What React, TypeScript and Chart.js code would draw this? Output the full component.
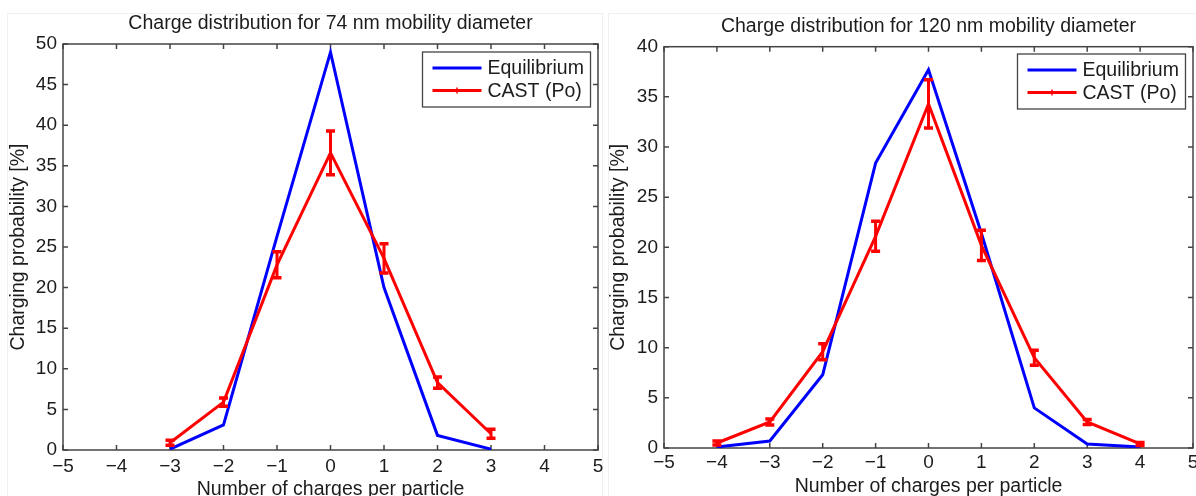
import React, { useEffect, useRef } from "react";
import { Chart, registerables } from "chart.js";

Chart.register(...registerables);

// ---------- data ----------
const seriesLabels = ["Equilibrium", "CAST (Po)"];
const xAxisTitle = "Number of charges per particle";
const yAxisTitle = "Charging probability [%]";
const xTickValues = [-5, -4, -3, -2, -1, 0, 1, 2, 3, 4, 5];

const title74 = "Charge distribution for 74 nm mobility diameter";
const charges74 = [-3, -2, -1, 0, 1, 2, 3];
const equilibrium74 = [0.1, 3.1, 26.3, 49.0, 20.0, 1.8, 0.1];
const cast74 = [0.9, 5.9, 22.8, 36.6, 23.6, 8.3, 2.0];
const castErr74 = [0.3, 0.5, 1.6, 2.7, 1.8, 0.7, 0.55];
const yTicks74 = [0, 5, 10, 15, 20, 25, 30, 35, 40, 45, 50];

const title120 = "Charge distribution for 120 nm mobility diameter";
const charges120 = [-4, -3, -2, -1, 0, 1, 2, 3, 4];
const equilibrium120 = [0.1, 0.7, 7.3, 28.4, 37.7, 21.4, 4.0, 0.4, 0.1];
const cast120 = [0.5, 2.6, 9.6, 21.1, 34.3, 20.2, 9.0, 2.6, 0.4];
const castErr120 = [0.2, 0.3, 0.8, 1.5, 2.4, 1.5, 0.75, 0.25, 0.15];
const yTicks120 = [0, 5, 10, 15, 20, 25, 30, 35, 40];

// ---------- styling ----------
const FONT = "'Liberation Sans', Arial, Helvetica, sans-serif";
const TEXT = "#1c1c1c";
const AXIS = "#444444";
const BLUE = "#0000ff";
const RED = "#ff0000";
const CW = 1210;
const CH = 506;

const fmt = (v: number) => (v < 0 ? "\u2212" + Math.abs(v) : String(v));

const frameTicksPlugin = {
  id: "frameTicks",
  beforeDatasetsDraw(chart: any) {
    const { ctx, chartArea: ca, scales } = chart;
    ctx.save();
    ctx.strokeStyle = AXIS;
    ctx.lineWidth = 1.5;
    ctx.strokeRect(ca.left, ca.top, ca.right - ca.left, ca.bottom - ca.top);
    const L = 5;
    ctx.beginPath();
    scales.x.ticks.forEach((t: any) => {
      const px = scales.x.getPixelForValue(t.value);
      ctx.moveTo(px, ca.bottom);
      ctx.lineTo(px, ca.bottom - L);
      ctx.moveTo(px, ca.top);
      ctx.lineTo(px, ca.top + L);
    });
    scales.y.ticks.forEach((t: any) => {
      const py = scales.y.getPixelForValue(t.value);
      ctx.moveTo(ca.left, py);
      ctx.lineTo(ca.left + L, py);
      ctx.moveTo(ca.right, py);
      ctx.lineTo(ca.right - L, py);
    });
    ctx.stroke();
    ctx.restore();
  },
};

const errorBarPlugin = {
  id: "errorBars",
  afterDatasetsDraw(chart: any) {
    const { ctx, scales } = chart;
    ctx.save();
    chart.data.datasets.forEach((ds: any) => {
      if (!ds.errors) return;
      ctx.strokeStyle = ds.borderColor;
      ds.data.forEach((pt: any, i: number) => {
        const e = ds.errors[i];
        const px = scales.x.getPixelForValue(pt.x);
        const pTop = scales.y.getPixelForValue(pt.y + e);
        const pBot = scales.y.getPixelForValue(Math.max(pt.y - e, 0));
        ctx.lineWidth = 3;
        ctx.beginPath();
        ctx.moveTo(px, pTop);
        ctx.lineTo(px, pBot);
        ctx.stroke();
        ctx.lineWidth = 3.5;
        ctx.beginPath();
        ctx.moveTo(px - 4.5, pTop);
        ctx.lineTo(px + 4.5, pTop);
        ctx.moveTo(px - 4.5, pBot);
        ctx.lineTo(px + 4.5, pBot);
        ctx.stroke();
      });
    });
    ctx.restore();
  },
};

const legendBoxPlugin = {
  id: "legendBox",
  afterDraw(chart: any, _args: any, opts: any) {
    const { ctx, chartArea: ca } = chart;
    const w = 168;
    const h = 55;
    const bx = ca.right - 7.5 - w;
    const by = ca.top + (opts.inset ?? 8);
    ctx.save();
    ctx.fillStyle = "#ffffff";
    ctx.fillRect(bx, by, w, h);
    ctx.strokeStyle = AXIS;
    ctx.lineWidth = 1.3;
    ctx.strokeRect(bx, by, w, h);
    const rows = [by + 16, by + 38.5];
    chart.data.datasets.forEach((ds: any, i: number) => {
      const y = rows[i];
      ctx.strokeStyle = ds.borderColor;
      ctx.lineWidth = 3;
      ctx.beginPath();
      ctx.moveTo(bx + 10, y);
      ctx.lineTo(bx + 59, y);
      ctx.stroke();
      if (ds.errors) {
        ctx.lineWidth = 1.5;
        ctx.beginPath();
        ctx.moveTo(bx + 34.5, y - 3);
        ctx.lineTo(bx + 34.5, y + 3);
        ctx.stroke();
      }
      ctx.fillStyle = TEXT;
      ctx.font = `19.5px ${FONT}`;
      ctx.textAlign = "left";
      ctx.textBaseline = "middle";
      ctx.fillText(ds.label, bx + 65, y + 1);
    });
    ctx.restore();
  },
};

type Panel = {
  title: string;
  charges: number[];
  eq: number[];
  cast: number[];
  err: number[];
  yTicks: number[];
  padLeft: number;
  padRight: number;
  yAxisWidth: number;
  xAxisHeight: number;
  titlePadTop: number;
  titlePadBottom: number;
  xTickPad: number;
  xTitlePad: number;
  legendInset: number;
};

function buildConfig(p: Panel): any {
  return {
    type: "line",
    data: {
      datasets: [
        {
          label: seriesLabels[0],
          data: p.charges.map((x, i) => ({ x, y: p.eq[i] })),
          borderColor: BLUE,
          backgroundColor: BLUE,
          borderWidth: 3,
          pointRadius: 0,
          tension: 0,
          order: 1,
        },
        {
          label: seriesLabels[1],
          data: p.charges.map((x, i) => ({ x, y: p.cast[i] })),
          errors: p.err,
          borderColor: RED,
          backgroundColor: RED,
          borderWidth: 3,
          pointRadius: 0,
          tension: 0,
          order: 0,
        },
      ],
    },
    options: {
      animation: false,
      responsive: false,
      devicePixelRatio: 1,
      events: [],
      layout: { padding: { left: p.padLeft, right: p.padRight, top: 0, bottom: 0 } },
      scales: {
        x: {
          type: "linear",
          min: xTickValues[0],
          max: xTickValues[xTickValues.length - 1],
          afterBuildTicks: (s: any) => {
            s.ticks = xTickValues.map((v) => ({ value: v }));
          },
          afterFit: (s: any) => {
            s.height = p.xAxisHeight;
          },
          grid: { display: false, drawTicks: false },
          border: { display: false },
          ticks: {
            autoSkip: false,
            maxRotation: 0,
            padding: p.xTickPad,
            color: TEXT,
            font: { family: FONT, size: 19 },
            callback: (v: any) => fmt(Number(v)),
          },
          title: {
            display: true,
            text: xAxisTitle,
            color: TEXT,
            font: { family: FONT, size: 19.5 },
            padding: { top: 0, bottom: p.xTitlePad },
          },
        },
        y: {
          type: "linear",
          min: p.yTicks[0],
          max: p.yTicks[p.yTicks.length - 1],
          afterBuildTicks: (s: any) => {
            s.ticks = p.yTicks.map((v) => ({ value: v }));
          },
          afterFit: (s: any) => {
            s.width = p.yAxisWidth;
          },
          grid: { display: false, drawTicks: false },
          border: { display: false },
          ticks: {
            padding: 6,
            color: TEXT,
            font: { family: FONT, size: 19 },
            callback: (v: any) => fmt(Number(v)),
          },
          title: {
            display: true,
            text: yAxisTitle,
            color: TEXT,
            font: { family: FONT, size: 19.5 },
            padding: { top: 7.3, bottom: 0 },
          },
        },
      },
      plugins: {
        legend: { display: false },
        tooltip: { enabled: false },
        title: {
          display: true,
          text: p.title,
          fullSize: false,
          color: TEXT,
          font: { family: FONT, size: 19.5, weight: "normal" },
          padding: { top: p.titlePadTop, bottom: p.titlePadBottom },
        },
        legendBox: { inset: p.legendInset },
      },
    },
    plugins: [frameTicksPlugin, errorBarPlugin, legendBoxPlugin],
  };
}

const panels: Panel[] = [
  {
    title: title74,
    charges: charges74,
    eq: equilibrium74,
    cast: cast74,
    err: castErr74,
    yTicks: yTicks74,
    padLeft: 0,
    padRight: CW - 598,
    yAxisWidth: 63,
    xAxisHeight: CH - 450,
    titlePadTop: 12.3,
    titlePadBottom: 8.3,
    xTickPad: 5.5,
    xTitlePad: 4.9,
    legendInset: 8,
  },
  {
    title: title120,
    charges: charges120,
    eq: equilibrium120,
    cast: cast120,
    err: castErr120,
    yTicks: yTicks120,
    padLeft: 600,
    padRight: CW - 1193,
    yAxisWidth: 64,
    xAxisHeight: CH - 448,
    titlePadTop: 14.8,
    titlePadBottom: 8.5,
    xTickPad: 3.5,
    xTitlePad: 7.6,
    legendInset: 7.3,
  },
];

function ChartLayer({ panel }: { panel: Panel }) {
  const ref = useRef<HTMLCanvasElement | null>(null);
  useEffect(() => {
    if (!ref.current) return;
    const chart = new Chart(ref.current, buildConfig(panel));
    return () => chart.destroy();
  }, [panel]);
  return (
    <canvas
      ref={ref}
      width={CW}
      height={CH}
      style={{ position: "absolute", left: 0, top: 0, width: CW, height: CH }}
    />
  );
}

export default function App() {
  return (
    <div
      style={{
        position: "fixed",
        left: 0,
        top: 0,
        width: 1196,
        height: 496,
        overflow: "hidden",
        background: "#ffffff",
      }}
    >
      <div
        style={{
          position: "absolute",
          left: 7,
          top: 13,
          width: 596,
          height: 500,
          border: "1px solid #f0f0f0",
          boxSizing: "border-box",
        }}
      />
      <div
        style={{
          position: "absolute",
          left: 608,
          top: 13,
          width: 600,
          height: 500,
          border: "1px solid #f0f0f0",
          boxSizing: "border-box",
        }}
      />
      <ChartLayer panel={panels[0]} />
      <ChartLayer panel={panels[1]} />
    </div>
  );
}
